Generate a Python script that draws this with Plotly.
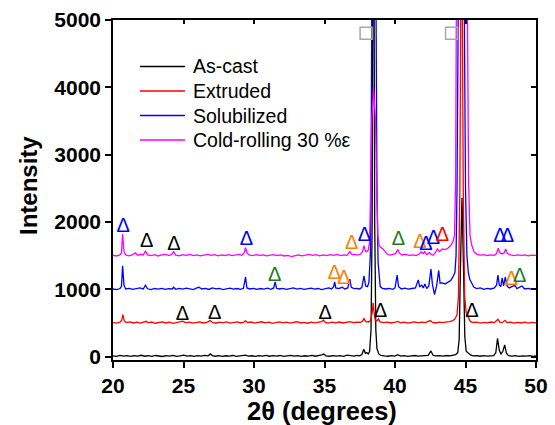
import plotly.graph_objects as go

# ---------------- data ----------------
series_names = ["As-cast", "Extruded", "Solubilized", "Cold-rolling 30 %ε"]
series_colors = ["#000000", "#FF0000", "#0000FF", "#FF00FF"]

ascast_x = [20.0, 20.25, 20.5, 20.75, 21.0, 21.25, 21.5, 21.75, 22.0, 22.25, 22.5, 22.75, 23.0, 23.25, 23.5, 23.75,
            24.0, 24.25, 24.5, 24.75, 25.0, 25.25, 25.5, 25.75, 26.0, 26.25, 26.5, 26.75, 26.9, 27.05, 27.25, 27.5,
            27.75, 28.0, 28.25, 28.5, 28.75, 29.0, 29.25, 29.4, 29.6, 29.85, 30.1, 30.35, 30.6, 30.85, 31.1, 31.35,
            31.6, 31.85, 32.1, 32.35, 32.6, 32.85, 33.1, 33.35, 33.6, 33.85, 34.1, 34.35, 34.6, 34.8, 34.95, 35.1,
            35.35, 35.6, 35.85, 36.1, 36.35, 36.6, 36.85, 37.1, 37.3, 37.5, 37.65, 37.78, 37.9, 38.0, 38.1, 38.2,
            38.3, 38.38, 38.47, 38.56, 38.64, 38.72, 38.85, 39.0, 39.25, 39.5, 39.75, 40.0, 40.2, 40.4, 40.65, 40.9,
            41.15, 41.4, 41.65, 41.9, 42.15, 42.35, 42.55, 42.7, 42.9, 43.15, 43.4, 43.65, 43.9, 44.1, 44.3, 44.45,
            44.55, 44.65, 44.75, 44.85, 44.95, 45.05, 45.2, 45.35, 45.55, 45.8, 46.05, 46.3, 46.55, 46.8, 47.0, 47.15,
            47.27, 47.4, 47.52, 47.65, 47.78, 47.9, 48.05, 48.3, 48.55, 48.8, 49.05, 49.3, 49.55, 49.8, 50.0]
ascast_y = [12, 5, 18, 8, 14, 3, 16, 9, 20, 6, 15, 4, 17, 10, 2, 15,
            8, 19, 5, 12, 22, 7, 14, 3, 16, 9, 18, 12, 40, 15, 6, 14,
            4, 13, 7, 17, 5, 11, 16, 22, 8, 13, 3, 15, 8, 18, 6, 14,
            9, 17, 4, 12, 19, 7, 15, 3, 13, 8, 18, 6, 14, 25, 38, 12,
            6, 16, 9, 14, 5, 22, 15, 8, 18, 12, 30, 110, 50, 60, 40, 80,
            400, 2000, 9000, 2000, 400, 120, 40, 20, 12, 6, 15, 9, 30, 8, 14, 5,
            12, 17, 7, 13, 10, 18, 85, 20, 10, 15, 8, 17, 12, 18, 30, 60,
            250, 1400, 2360, 1400, 300, 80, 45, 25, 12, 16, 6, 14, 9, 17, 15, 60,
            270, 90, 40, 80, 175, 50, 15, 8, 14, 4, 12, 7, 15, 5, 10]

extruded_x = [20.0, 20.25, 20.5, 20.62, 20.7, 20.8, 20.95, 21.2, 21.45, 21.7, 21.95, 22.2, 22.35, 22.5, 22.75, 23.0,
              23.25, 23.5, 23.75, 24.0, 24.25, 24.5, 24.75, 24.95, 25.15, 25.4, 25.65, 25.9, 26.15, 26.4, 26.65, 26.9,
              27.05, 27.3, 27.55, 27.8, 28.05, 28.3, 28.55, 28.8, 29.05, 29.25, 29.4, 29.55, 29.8, 30.05, 30.3, 30.55,
              30.8, 31.05, 31.3, 31.55, 31.8, 32.05, 32.3, 32.55, 32.8, 33.05, 33.3, 33.55, 33.8, 34.05, 34.3, 34.55,
              34.8, 34.92, 35.05, 35.3, 35.55, 35.8, 36.05, 36.3, 36.55, 36.8, 37.05, 37.3, 37.55, 37.7, 37.8, 37.92,
              38.1, 38.25, 38.38, 38.45, 38.52, 38.6, 38.72, 38.82, 38.95, 39.2, 39.45, 39.7, 39.95, 40.2, 40.4, 40.65,
              40.9, 41.15, 41.4, 41.65, 41.9, 42.15, 42.5, 42.65, 42.9, 43.15, 43.4, 43.65, 43.9, 44.1, 44.25, 44.4,
              44.5, 44.6, 44.72, 44.84, 44.94, 45.05, 45.2, 45.35, 45.55, 45.8, 46.05, 46.3, 46.55, 46.8, 47.05, 47.3,
              47.45, 47.6, 47.8, 47.95, 48.2, 48.45, 48.7, 48.95, 49.2, 49.45, 49.7, 50.0]
extruded_y = [505, 498, 512, 540, 625, 530, 505, 515, 500, 512, 497, 510, 525, 503, 514, 496,
              508, 517, 500, 511, 494, 506, 515, 528, 503, 512, 497, 509, 516, 500, 510, 535,
              507, 496, 512, 503, 515, 498, 508, 517, 500, 510, 532, 505, 514, 499, 509, 518,
              502, 511, 495, 507, 516, 501, 512, 497, 509, 518, 500, 508, 496, 512, 503, 515,
              520, 545, 510, 498, 511, 503, 514, 500, 509, 520, 505, 513, 508, 530, 565, 520,
              515, 530, 650, 800, 650, 540, 530, 560, 515, 505, 513, 500, 510, 522, 503, 511,
              498, 508, 515, 501, 512, 505, 535, 510, 500, 512, 505, 516, 520, 535, 560, 620,
              900, 2500, 7500, 2500, 900, 650, 570, 520, 507, 513, 498, 510, 503, 514, 505, 555,
              510, 505, 540, 505, 512, 498, 509, 500, 511, 497, 508, 502]

solub_x = [20.0, 20.25, 20.5, 20.6, 20.68, 20.78, 20.9, 21.15, 21.4, 21.65, 21.9, 22.15, 22.3, 22.45, 22.7, 22.95,
           23.2, 23.45, 23.7, 23.95, 24.2, 24.3, 24.45, 24.7, 24.95, 25.2, 25.45, 25.7, 25.95, 26.1, 26.3, 26.55,
           26.8, 27.05, 27.3, 27.55, 27.8, 28.05, 28.3, 28.55, 28.8, 29.05, 29.25, 29.4, 29.5, 29.7, 29.95, 30.2,
           30.45, 30.7, 30.95, 31.2, 31.4, 31.5, 31.6, 31.8, 32.05, 32.3, 32.55, 32.8, 33.05, 33.3, 33.55, 33.8,
           34.05, 34.3, 34.55, 34.8, 35.05, 35.3, 35.5, 35.65, 35.72, 35.8, 36.0, 36.25, 36.45, 36.65, 36.8, 36.9,
           37.1, 37.3, 37.5, 37.65, 37.8, 37.92, 38.05, 38.15, 38.25, 38.3, 38.35, 38.5, 38.66, 38.72, 38.8, 38.95,
           39.1, 39.35, 39.6, 39.85, 40.0, 40.15, 40.25, 40.45, 40.7, 40.95, 41.2, 41.45, 41.65, 41.75, 41.9, 42.0,
           42.12, 42.25, 42.4, 42.55, 42.65, 42.8, 42.95, 43.1, 43.2, 43.35, 43.55, 43.75, 43.95, 44.1, 44.25, 44.33,
           44.4, 44.48, 44.7, 44.92, 45.0, 45.1, 45.2, 45.3, 45.45, 45.6, 45.8, 46.05, 46.3, 46.55, 46.8, 47.05,
           47.2, 47.3, 47.4, 47.5, 47.6, 47.7, 47.82, 47.95, 48.1, 48.3, 48.5, 48.65, 48.85, 49.0, 49.2, 49.45,
           49.7, 50.0]
solub_y = [1005, 996, 1012, 1040, 1350, 1060, 1005, 1015, 998, 1010, 1020, 1005, 1060, 1008, 996, 1012,
           1003, 1015, 998, 1010, 1005, 1030, 1000, 1015, 1003, 1018, 1006, 995, 1020, 1030, 1005, 1015,
           998, 1022, 1006, 1012, 996, 1010, 1018, 1003, 1012, 1000, 1015, 1180, 1020, 1005, 1015, 998,
           1012, 1004, 1016, 1000, 1020, 1110, 1015, 1005, 1015, 998, 1012, 1022, 1004, 1015, 998, 1010,
           1018, 1002, 1012, 996, 1010, 1020, 1005, 1040, 1110, 1020, 1010, 1030, 1005, 1020, 1150, 1030,
           1010, 1015, 1005, 1030, 1200, 1050, 1040, 1100, 1500, 2500, 5000, 30000, 5000, 2500, 1400, 1040,
           1015, 1005, 1015, 1000, 1020, 1210, 1040, 1005, 1018, 1002, 1012, 1020, 1140, 1040, 1060, 1020,
           1080, 1010, 1050, 1300, 1080, 920, 1050, 1280, 1090, 1095, 1080, 1100, 1130, 1180, 1250, 1500,
           2500, 5000, 25000, 5000, 2500, 1500, 1250, 1150, 1080, 1030, 1010, 1020, 1000, 1015, 1005, 1020,
           1060, 1210, 1060, 1040, 1170, 1050, 1180, 1050, 1020, 1040, 1060, 1010, 1030, 1050, 1005, 1015,
           1000, 1008]

cold_x = [20.0, 20.25, 20.5, 20.6, 20.68, 20.78, 20.9, 21.15, 21.4, 21.6, 21.75, 21.95, 22.15, 22.3, 22.45, 22.7,
          22.95, 23.2, 23.45, 23.7, 23.95, 24.15, 24.3, 24.45, 24.7, 24.95, 25.2, 25.45, 25.7, 25.95, 26.2, 26.45,
          26.7, 26.95, 27.2, 27.45, 27.7, 27.95, 28.2, 28.45, 28.7, 28.95, 29.15, 29.3, 29.4, 29.5, 29.65, 29.9,
          30.15, 30.4, 30.65, 30.9, 31.15, 31.4, 31.65, 31.9, 32.15, 32.4, 32.65, 32.9, 33.15, 33.4, 33.65, 33.9,
          34.15, 34.4, 34.65, 34.9, 35.15, 35.4, 35.65, 35.9, 36.15, 36.4, 36.6, 36.8, 36.95, 37.15, 37.35, 37.55,
          37.7, 37.8, 37.9, 38.0, 38.1, 38.2, 38.28, 38.35, 38.48, 38.62, 38.7, 38.78, 38.88, 39.0, 39.15, 39.3,
          39.45, 39.65, 39.9, 40.05, 40.2, 40.3, 40.5, 40.75, 41.0, 41.25, 41.5, 41.7, 41.85, 42.0, 42.1, 42.25,
          42.45, 42.55, 42.7, 42.85, 43.0, 43.15, 43.35, 43.55, 43.75, 43.95, 44.1, 44.22, 44.3, 44.37, 44.5, 44.75,
          45.0, 45.14, 45.22, 45.32, 45.45, 45.6, 45.8, 46.05, 46.3, 46.55, 46.8, 47.05, 47.2, 47.32, 47.45, 47.6,
          47.75, 47.85, 47.98, 48.2, 48.45, 48.7, 48.95, 49.2, 49.45, 49.7, 50.0]
cold_y = [1505, 1495, 1512, 1540, 1820, 1560, 1510, 1498, 1515, 1540, 1505, 1520, 1510, 1570, 1512, 1500,
          1516, 1495, 1510, 1520, 1503, 1515, 1560, 1508, 1498, 1515, 1503, 1518, 1500, 1512, 1496, 1510,
          1520, 1505, 1515, 1498, 1510, 1502, 1514, 1500, 1510, 1520, 1505, 1540, 1620, 1545, 1510, 1500,
          1515, 1503, 1512, 1497, 1508, 1516, 1500, 1510, 1495, 1505, 1485, 1500, 1512, 1498, 1510, 1520,
          1503, 1515, 1498, 1510, 1500, 1514, 1505, 1518, 1500, 1512, 1505, 1560, 1515, 1520, 1508, 1520,
          1560, 1650, 1570, 1560, 1580, 1700, 2600, 3500, 4000, 3500, 2600, 1800, 1650, 1620, 1600, 1560,
          1520, 1508, 1515, 1530, 1590, 1540, 1510, 1518, 1505, 1512, 1500, 1520, 1555, 1530, 1560, 1515,
          1545, 1520, 1505, 1540, 1600, 1560, 1600, 1590, 1610, 1650, 1700, 1800, 2600, 5000, 15000, 25000,
          15000, 5000, 2600, 1800, 1650, 1560, 1520, 1508, 1515, 1502, 1512, 1505, 1530, 1610, 1540, 1525,
          1540, 1600, 1530, 1512, 1500, 1510, 1503, 1512, 1498, 1508, 1503]

# phase markers (open triangles) and peak markers (squares)
tri_x = [20.73, 22.38, 24.32, 29.46, 36.93, 37.83, 40.24, 41.77, 42.20, 42.73, 43.37, 47.45, 47.97,
         31.46, 35.71, 36.37, 48.25, 48.85,
         24.93, 27.22, 35.05, 38.96, 45.45]
tri_y = [1924, 1696, 1662, 1736, 1672, 1795, 1736, 1687, 1662, 1751, 1795, 1776, 1776,
         1202, 1231, 1157, 1142, 1177,
         623, 638, 638, 657, 657]
tri_c = ["#0000FF", "#000000", "#000000", "#0000FF", "#FF7F00", "#0000FF", "#1E7B1E", "#FF7F00", "#0000FF",
         "#0000FF", "#FF0000", "#0000FF", "#0000FF",
         "#1E7B1E", "#FF7F00", "#FF7F00", "#FF7F00", "#1E7B1E",
         "#000000", "#000000", "#000000", "#000000", "#000000"]
sq_x = [37.95, 44.01]
sq_y = [4803, 4803]

x_ticks = [20, 25, 30, 35, 40, 45, 50]
y_ticks = [0, 1000, 2000, 3000, 4000, 5000]

# ---------------- figure ----------------
FONT = "Liberation Sans, Arial, sans-serif"
fig = go.Figure()
series = [(ascast_x, ascast_y), (extruded_x, extruded_y), (solub_x, solub_y), (cold_x, cold_y)]
for (xs, ys), name, col in zip(series, series_names, series_colors):
    fig.add_trace(go.Scatter(x=xs, y=ys, mode="lines", name=name,
                             line=dict(color=col, width=1.3), showlegend=False))

fig.add_trace(go.Scatter(x=tri_x, y=tri_y, mode="text", text=["Δ"] * len(tri_x),
                         textfont=dict(color=tri_c, size=20, family=FONT),
                         textposition="middle center", showlegend=False, cliponaxis=False))
fig.add_trace(go.Scatter(x=sq_x, y=sq_y, mode="markers", showlegend=False,
                         marker=dict(symbol="square-open", size=12, color="#A8A8A8",
                                     line=dict(width=1.5, color="#A8A8A8"))))
# dummy trace for mirrored (inside) axes
fig.add_trace(go.Scatter(x=[20], y=[-50], xaxis="x2", yaxis="y2", mode="markers",
                         marker=dict(opacity=0), showlegend=False, hoverinfo="skip"))

# manual legend
L, W, B, H = 113, 423, 360, 340
def px2paper(px, py):
    return (px - L) / W, (B - py) / H

leg_rows = [66.5, 91, 115.5, 140]
for name, col, py in zip(series_names, series_colors, leg_rows):
    x0, y0 = px2paper(140, py)
    x1, _ = px2paper(185, py)
    fig.add_shape(type="line", xref="paper", yref="paper", x0=x0, x1=x1, y0=y0, y1=y0,
                  line=dict(color=col, width=1.3))
    tx, ty = px2paper(191, py)
    fig.add_annotation(xref="paper", yref="paper", x=tx, y=ty, text=name, showarrow=False,
                       xanchor="left", yanchor="middle", font=dict(size=19.5, color="black", family=FONT))

# axis titles
fig.add_annotation(xref="paper", yref="paper", x=(322 - L) / W, y=(B - 411) / H, text="2θ (degrees)",
                   showarrow=False, xanchor="center", yanchor="middle",
                   font=dict(size=25.5, color="black", family=FONT, weight="bold"))
fig.add_annotation(xref="paper", yref="paper", x=(28 - L) / W, y=(B - 186) / H, text="Intensity",
                   showarrow=False, xanchor="center", yanchor="middle", textangle=-90,
                   font=dict(size=24, color="black", family=FONT, weight="bold"))

axis_common = dict(showgrid=False, zeroline=False, showline=True, linecolor="black", linewidth=1.6,
                   tickcolor="black", tickwidth=1.6, automargin=False)
fig.update_layout(
    width=555, height=425,
    margin=dict(l=L, r=555 - L - W, t=B - H, b=425 - B, pad=0, autoexpand=False),
    paper_bgcolor="white", plot_bgcolor="white",
    font=dict(family=FONT, color="black"),
    xaxis=dict(range=[20, 50], tickvals=x_ticks, ticktext=[str(v) for v in x_ticks],
               ticks="outside", ticklen=6,
               tickfont=dict(size=21, family=FONT, weight="bold"), **axis_common),
    yaxis=dict(range=[-50, 5000], tickvals=y_ticks, ticktext=[str(v) for v in y_ticks],
               ticks="outside", ticklen=6,
               tickfont=dict(size=21, family=FONT, weight="bold"), **axis_common),
    xaxis2=dict(range=[20, 50], overlaying="x", side="top", tickvals=x_ticks, ticks="inside",
                ticklen=4, showticklabels=False, **axis_common),
    yaxis2=dict(range=[-50, 5000], overlaying="y", side="right", tickvals=y_ticks, ticks="inside",
                ticklen=5, showticklabels=False, **axis_common),
)

fig.write_html("out.html", config={"displayModeBar": False},
               post_script="document.body.style.margin='0';document.body.style.padding='0';")
